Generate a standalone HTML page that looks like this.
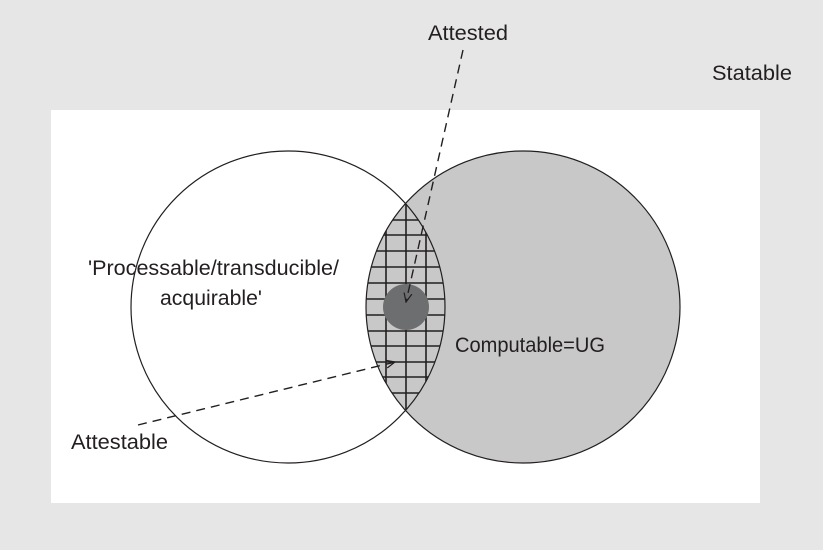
<!DOCTYPE html>
<html><head><meta charset="utf-8"><style>
html,body{margin:0;padding:0;background:#e6e6e6;}
svg{display:block;}
text{font-family:"Liberation Sans Narrow","Liberation Sans",sans-serif;font-size:21px;fill:#231f20;}
</style></head><body>
<svg width="823" height="550" viewBox="0 0 823 550" xmlns="http://www.w3.org/2000/svg">
<defs>
<clipPath id="lens"><ellipse cx="523" cy="307" rx="157" ry="156"/></clipPath>
<clipPath id="lens2"><ellipse cx="288" cy="307" rx="157" ry="156"/></clipPath>
<marker id="ah" markerWidth="10" markerHeight="10" refX="9" refY="5" orient="auto" markerUnits="userSpaceOnUse">
<path d="M0,1 L9,5 L0,9" fill="none" stroke="#231f20" stroke-width="1.2"/></marker>
</defs>
<rect x="0" y="0" width="823" height="550" fill="#e6e6e6"/>
<rect x="51" y="110" width="709" height="393" fill="#fff"/>
<ellipse cx="523" cy="307" rx="157" ry="156" fill="#c8c8c9" stroke="#231f20" stroke-width="1.2"/>
<g clip-path="url(#lens)"><g clip-path="url(#lens2)" stroke="#231f20" stroke-width="1.6">
<line x1="386" y1="150" x2="386" y2="470"/>
<line x1="406" y1="150" x2="406" y2="470"/>
<line x1="426" y1="150" x2="426" y2="470"/>
<line x1="360" y1="220" x2="450" y2="220"/>
<line x1="360" y1="235" x2="450" y2="235"/>
<line x1="360" y1="251" x2="450" y2="251"/>
<line x1="360" y1="267" x2="450" y2="267"/>
<line x1="360" y1="283" x2="450" y2="283"/>
<line x1="360" y1="299" x2="450" y2="299"/>
<line x1="360" y1="315" x2="450" y2="315"/>
<line x1="360" y1="331" x2="450" y2="331"/>
<line x1="360" y1="346" x2="450" y2="346"/>
<line x1="360" y1="362" x2="450" y2="362"/>
<line x1="360" y1="377" x2="450" y2="377"/>
<line x1="360" y1="393" x2="450" y2="393"/>
</g></g>
<ellipse cx="288" cy="307" rx="157" ry="156" fill="none" stroke="#231f20" stroke-width="1.2"/>
<circle cx="406" cy="307" r="23" fill="#6d6e70"/>
<line x1="463" y1="50" x2="406" y2="302" stroke="#231f20" stroke-width="1.4" stroke-dasharray="9,6" marker-end="url(#ah)"/>
<line x1="138" y1="425" x2="395" y2="362" stroke="#231f20" stroke-width="1.4" stroke-dasharray="9,6" marker-end="url(#ah)"/>
<text x="428" y="40" textLength="80" lengthAdjust="spacingAndGlyphs">Attested</text>
<text x="712" y="80" textLength="80" lengthAdjust="spacingAndGlyphs">Statable</text>
<text x="88" y="275" textLength="251" lengthAdjust="spacingAndGlyphs">'Processable/transducible/</text>
<text x="160" y="305" textLength="102" lengthAdjust="spacingAndGlyphs">acquirable'</text>
<text x="455" y="352" textLength="150" lengthAdjust="spacingAndGlyphs">Computable=UG</text>
<text x="71" y="449" textLength="97" lengthAdjust="spacingAndGlyphs">Attestable</text>
</svg>
</body></html>
